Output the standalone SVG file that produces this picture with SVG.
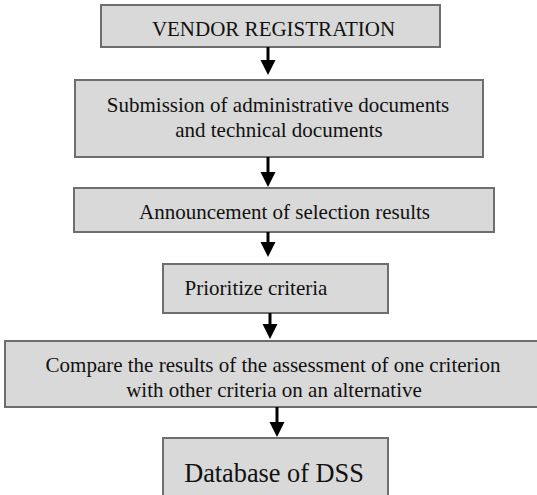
<svg xmlns="http://www.w3.org/2000/svg" width="537" height="495" viewBox="0 0 537 495">
  <style>
    .box { fill: #d9d9d9; stroke: #6e6e6e; stroke-width: 2; }
    .lbl { font-size: 21px; fill: #111; text-anchor: middle; }
    .big { font-size: 26.3px; }
    .shaft { stroke: #000; stroke-width: 3; }
  </style>
  <rect width="537" height="495" fill="#fff"/>

  <g font-family="'Liberation Serif', 'Times New Roman', 'DejaVu Serif', serif">
    <g id="n1">
      <rect class="box" x="101" y="5" width="339" height="42"/>
      <text class="lbl" x="273.5" y="36">VENDOR REGISTRATION</text>
    </g>
    <g id="n2">
      <rect class="box" x="75" y="80" width="408" height="77"/>
      <text class="lbl" x="278" y="112">Submission of administrative documents</text>
      <text class="lbl" x="279" y="137">and technical documents</text>
    </g>
    <g id="n3">
      <rect class="box" x="74" y="188" width="420" height="44"/>
      <text class="lbl" x="284.5" y="219">Announcement of selection results</text>
    </g>
    <g id="n4">
      <rect class="box" x="163" y="264" width="225" height="49"/>
      <text class="lbl" x="256" y="295">Prioritize criteria</text>
    </g>
    <g id="n5">
      <rect class="box" x="5" y="341" width="540" height="66"/>
      <text class="lbl" x="273" y="372">Compare the results of the assessment of one criterion</text>
      <text class="lbl" x="274" y="397">with other criteria on an alternative</text>
    </g>
    <g id="n6">
      <rect class="box" x="163" y="438" width="225" height="70"/>
      <text class="lbl big" x="274" y="482">Database of DSS</text>
    </g>
  </g>

  <!-- downward flow arrows: shaft plus filled head -->
  <g id="connectors" fill="#000">
    <line class="shaft" x1="268" y1="47" x2="268" y2="62"/>
    <polygon points="260.5,60 275.5,60 268,75"/>
    <line class="shaft" x1="268" y1="157" x2="268" y2="174"/>
    <polygon points="260.5,172 275.5,172 268,187"/>
    <line class="shaft" x1="268" y1="232" x2="268" y2="244"/>
    <polygon points="260.5,242 275.5,242 268,257"/>
    <line class="shaft" x1="270" y1="313" x2="270" y2="326"/>
    <polygon points="262.5,324 277.5,324 270,339"/>
    <line class="shaft" x1="277" y1="407" x2="277" y2="424"/>
    <polygon points="269.5,422 284.5,422 277,437"/>
  </g>
</svg>
